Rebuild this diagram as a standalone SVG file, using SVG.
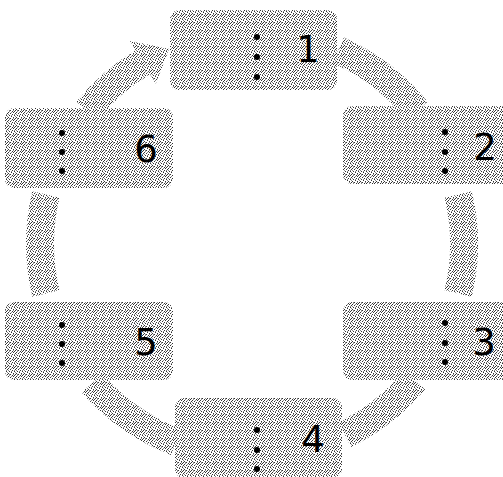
<svg xmlns="http://www.w3.org/2000/svg" width="503" height="477" viewBox="0 0 503 477">
  <defs>
    <pattern id="st" width="8" height="8" patternUnits="userSpaceOnUse">
      <path fill="#333" d="M0 0h1v1h-1z M5 0h1v1h-1z M2 1h1v1h-1z M7 1h1v1h-1z M4 2h1v1h-1z M1 3h1v1h-1z M6 3h1v1h-1z M3 4h1v1h-1z M0 5h1v1h-1z M5 5h1v1h-1z M2 6h1v1h-1z M7 6h1v1h-1z M4 7h1v1h-1z M6 7h1v1h-1z"/>
      <path fill="#888" d="M3 0h1v1h-1z M0 2h1v1h-1z M6 2h1v1h-1z M3 3h1v1h-1z M7 4h1v1h-1z M1 6h1v1h-1z M5 6h1v1h-1z M1 7h1v1h-1z"/>
    </pattern>
    <style>
      .box { fill: url(#st); }
      .band { fill: none; stroke: url(#st); stroke-width: 28; }
      .head { fill: url(#st); }
      .num { font-family: "DejaVu Sans", "Liberation Sans", sans-serif; font-size: 37px; text-anchor: middle; fill: #000; }
      .dot { fill: #000; }
    </style>
  </defs>
  <rect width="503" height="477" fill="#fff"/>
  <g id="connectors">
    <path class="band" d="M87.3 110.6 A212 212 0 0 1 142.8 62.3"/>
    <polygon class="head" points="129.9,40.8 169.2,48.9 155.7,83.7"/>
    <path class="band" d="M338.2 50.3 A212 212 0 0 1 416.7 110.6"/>
    <path class="band" d="M458.2 194.5 A212 212 0 0 1 458.2 293.5"/>
    <path class="band" d="M414.4 380.3 A212 212 0 0 1 344.9 434.5"/>
    <path class="band" d="M176 441.9 A212 212 0 0 1 92 383.1"/>
    <path class="band" d="M45.9 293.5 A212 212 0 0 1 45.9 194.5"/>
  </g>
  <g id="node1">
    <rect class="box" x="170" y="10" width="167" height="80" rx="9"/>
    <circle class="dot" cx="257" cy="37" r="3"/><circle class="dot" cx="257" cy="57" r="3"/><circle class="dot" cx="257" cy="77" r="3"/>
    <text class="num" x="308" y="62">1</text>
  </g>
  <g id="node2">
    <rect class="box" x="343" y="106" width="167" height="78" rx="9"/>
    <circle class="dot" cx="445" cy="132" r="3"/><circle class="dot" cx="445" cy="152" r="3"/><circle class="dot" cx="445" cy="171" r="3"/>
    <text class="num" x="485" y="160">2</text>
  </g>
  <g id="node3">
    <rect class="box" x="343" y="302" width="167" height="78" rx="9"/>
    <circle class="dot" cx="445" cy="323" r="3"/><circle class="dot" cx="445" cy="343" r="3"/><circle class="dot" cx="445" cy="362" r="3"/>
    <text class="num" x="484" y="355">3</text>
  </g>
  <g id="node4">
    <rect class="box" x="175" y="398" width="167" height="80" rx="9"/>
    <circle class="dot" cx="257" cy="430" r="3"/><circle class="dot" cx="257" cy="450" r="3"/><circle class="dot" cx="257" cy="469" r="3"/>
    <text class="num" x="313" y="452">4</text>
  </g>
  <g id="node5">
    <rect class="box" x="5" y="302" width="168" height="78" rx="9"/>
    <circle class="dot" cx="62" cy="325" r="3"/><circle class="dot" cx="62" cy="344" r="3"/><circle class="dot" cx="62" cy="363" r="3"/>
    <text class="num" x="146" y="355">5</text>
  </g>
  <g id="node6">
    <rect class="box" x="5" y="108" width="168" height="80" rx="9"/>
    <circle class="dot" cx="62" cy="133" r="3"/><circle class="dot" cx="62" cy="152" r="3"/><circle class="dot" cx="62" cy="171" r="3"/>
    <text class="num" x="146" y="162">6</text>
  </g>
</svg>
